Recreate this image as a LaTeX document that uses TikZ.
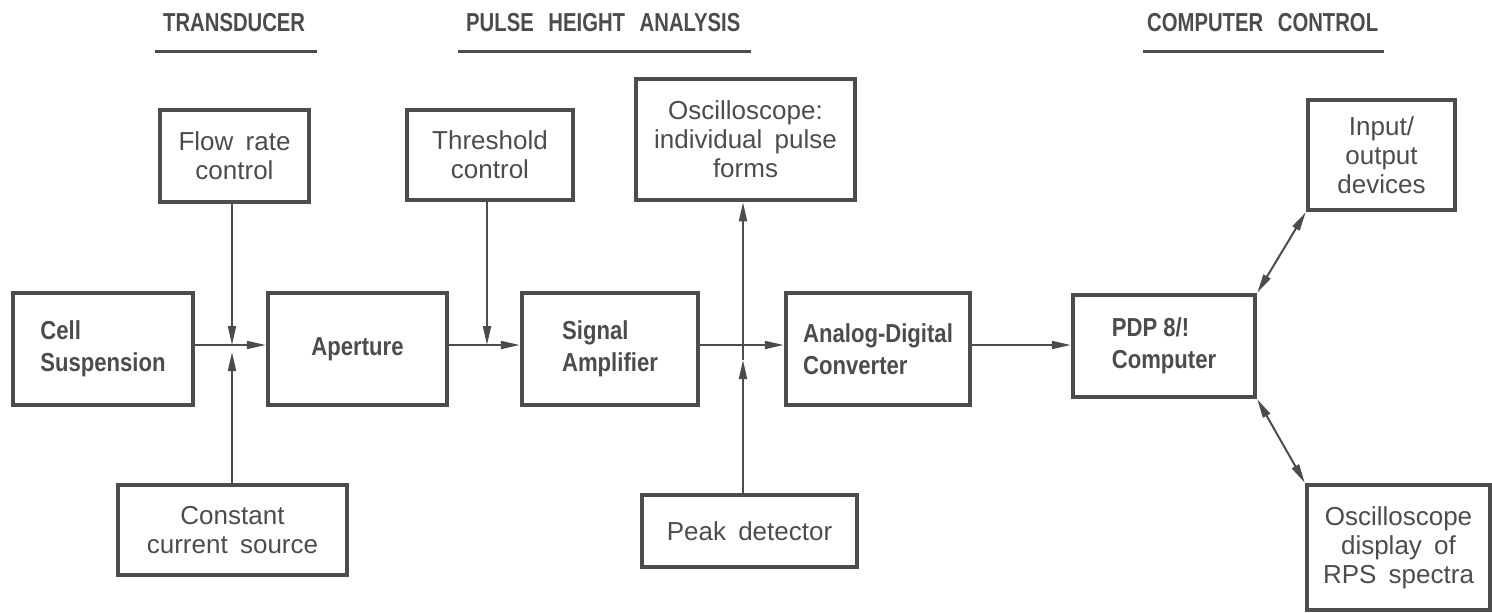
\documentclass[tikz,border=0pt]{standalone}
\usepackage{fontspec}
\setmainfont{Liberation Sans}[WordSpace=1.7]
\newfontfamily\condb{Liberation Sans Bold}[FakeStretch=0.85]
\newfontfamily\headf{Liberation Sans Bold}[FakeStretch=0.78,WordSpace=2.6]
\usetikzlibrary{arrows.meta,calc}
\definecolor{ink}{gray}{0.3}
\tikzset{
  box/.style={draw=ink, line width=4.5pt, inner sep=0pt, text=ink, align=center,
    font=\fontsize{26}{29}\selectfont},
  bbox/.style={box, align=left, font=\condb\fontsize{26}{32}\selectfont},
  conn/.style={draw=ink, line width=2pt},
  tip/.tip={Triangle[length=19pt,width=8pt]},
  arr/.style={conn, -tip},
  darr/.style={conn, tip-tip},
  head/.style={text=ink, font=\headf\fontsize{26}{30}\selectfont, inner sep=0pt},
  uline/.style={draw=ink, line width=2.5pt}
}
\begin{document}
\begin{tikzpicture}[x=1pt,y=-1pt]
\useasboundingbox (0,0) rectangle (1492,613);
% headings
\node[head, anchor=west] (h1) at (163,22.5) {TRANSDUCER};
\node[head, anchor=west] (h2) at (466,22.5) {PULSE HEIGHT ANALYSIS};
\node[head, anchor=west] (h3) at (1147,22.5) {COMPUTER CONTROL};
\draw[uline] ($(h1.west)+(-8,29)$) -- ($(h1.east)+(12,29)$);
\draw[uline] ($(h2.west)+(-8,29)$) -- ($(h2.east)+(10,29)$);
\draw[uline] ($(h3.west)+(-4,29)$) -- ($(h3.east)+(6,29)$);
% upper boxes
\node[box, minimum width=149, minimum height=92] (flow) at (234.5,156) {Flow rate\\control};
\node[box, minimum width=166, minimum height=90] (thr) at (490,155) {Threshold\\control};
\node[box, minimum width=219, minimum height=121] (osc) at (745.5,139.5) {Oscilloscope:\\individual pulse\\forms};
\node[box, minimum width=147, minimum height=110] (io) at (1381.5,155) {Input/\\output\\devices};
% main row
\node[bbox, minimum width=180, minimum height=112] (cell) at (103,349) {Cell\\Suspension};
\node[bbox, minimum width=179, minimum height=112] (ap) at (357.5,349) {Aperture};
\node[bbox, minimum width=176, minimum height=112] (amp) at (610,349) {Signal\\Amplifier};
\node[bbox, minimum width=184, minimum height=112] (adc) at (878,349) {Analog-Digital\\Converter};
\node[bbox, minimum width=182, minimum height=102] (pdp) at (1164,346) {PDP 8/!\\Computer};
% lower boxes
\node[box, minimum width=229, minimum height=90] (cur) at (232.5,530) {Constant\\current source};
\node[box, minimum width=215, minimum height=72] (peak) at (749.5,531) {Peak detector};
\node[box, minimum width=183, minimum height=125] (rps) at (1398.5,547.5) {Oscilloscope\\display of\\RPS spectra};
% junctions and free ends
\coordinate (j1) at (232,345);
\coordinate (j2) at (487,345);
\coordinate (j3) at (743,345);
\coordinate (e1) at (232,352);
\coordinate (e3) at (743,360);
% connectors
\draw[arr] (cell.east |- j1) -- (ap.west |- j1);
\draw[arr] (flow.south -| j1) -- (j1);
\draw[arr] (cur.north -| e1) -- (e1);
\draw[arr] (ap.east |- j2) -- (amp.west |- j2);
\draw[arr] (thr.south -| j2) -- (j2);
\draw[arr] (amp.east |- j3) -- (adc.west |- j3);
\draw[arr] (e3) -- (osc.south -| j3);
\draw[arr] (peak.north -| e3) -- (e3);
\draw[arr] (adc.east |- j3) -- (pdp.west |- j3);
\draw[darr] (pdp.north east) -- (io.south west);
\draw[darr] (pdp.south east) -- (rps.north west);
\end{tikzpicture}
\end{document}
